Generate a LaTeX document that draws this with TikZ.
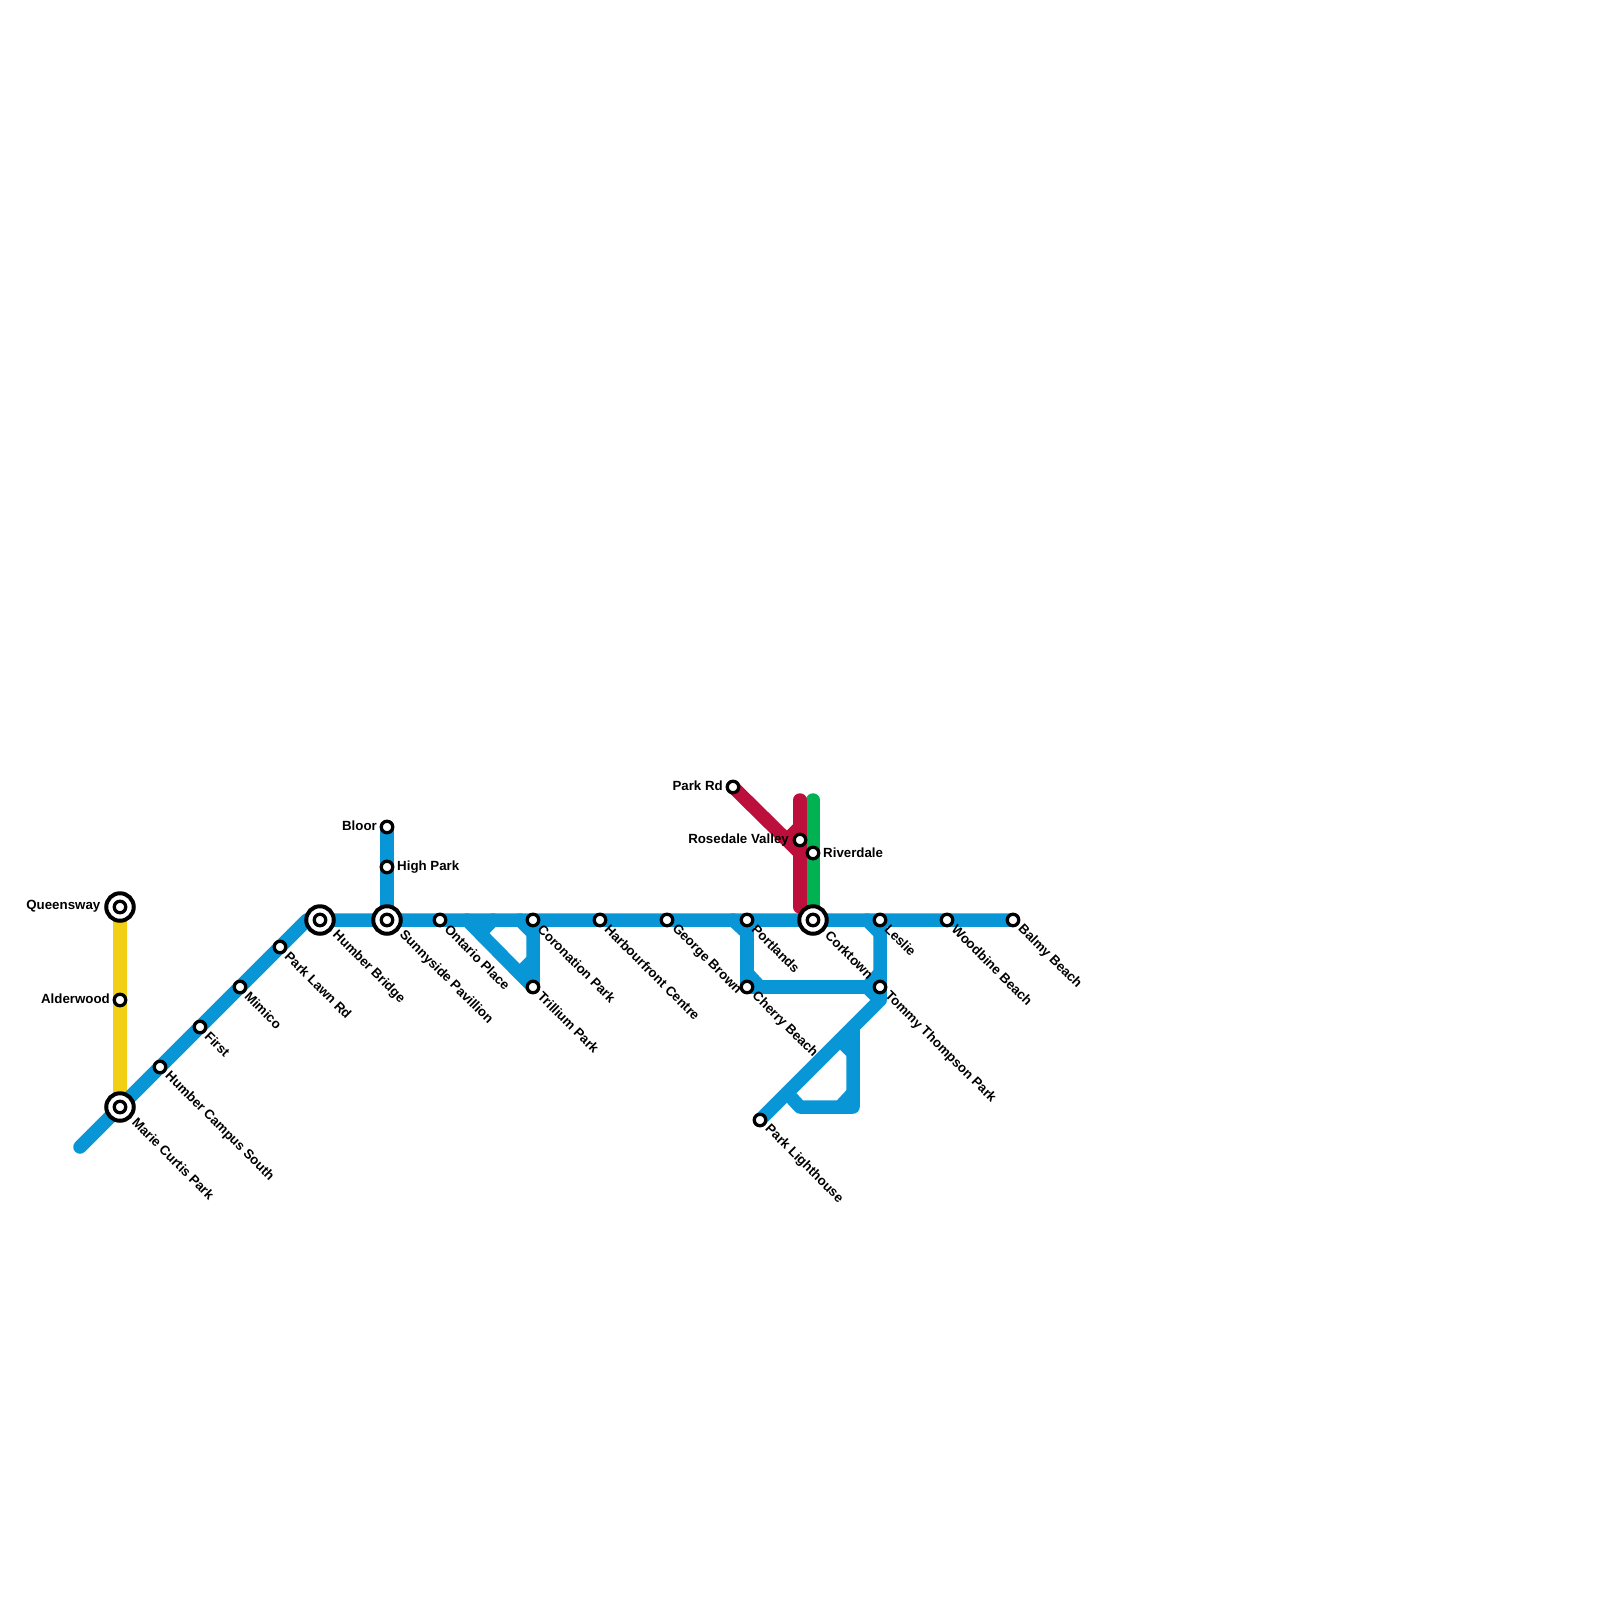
\documentclass[tikz,border=0pt]{standalone}
\usepackage{fontspec}
\setmainfont{Liberation Sans}
\usepackage{xcolor}
\usetikzlibrary{backgrounds}
\definecolor{TransitBlue}{HTML}{0896D7}
\definecolor{TransitYellow}{HTML}{F2CF14}
\definecolor{TransitRed}{HTML}{BD0F3C}
\definecolor{TransitGreen}{HTML}{00B251}
\tikzset{
  route/.style={line width=13.5pt,line cap=round,line join=round},
  stop/.style={circle,draw=black,fill=white,line width=3.3pt,minimum size=11.5pt,inner sep=0pt},
  hub/.style={circle,draw=black,fill=white,line width=4pt,minimum size=27.5pt,inner sep=0pt},
  tag/.style={font=\bfseries\fontsize{13.3}{15}\selectfont,inner sep=0pt},
  tagse/.style={tag,anchor=west,rotate=-45},
  tagl/.style={tag,anchor=east},
  tagr/.style={tag,anchor=west}
}
\begin{document}
\begin{tikzpicture}[x=1pt,y=-1pt]
    \useasboundingbox (0,0) rectangle (1600,1600);
    % interchanges
    \node[hub] (queensway) at (120,907) {};
    \node[stop] (queenswayin) at (120,907) {};
    \node[hub] (mariecurtis) at (120,1107) {};
    \node[stop] (mariecurtisin) at (120,1107) {};
    \node[hub] (humberbridge) at (320,920) {};
    \node[stop] (humberbridgein) at (320,920) {};
    \node[hub] (sunnyside) at (387,920) {};
    \node[stop] (sunnysidein) at (387,920) {};
    \node[hub] (corktown) at (813,920) {};
    \node[stop] (corktownin) at (813,920) {};
    % stops
    \node[stop] (alderwood) at (120,1000) {};
    \node[stop] (humbercampus) at (160,1067) {};
    \node[stop] (first) at (200,1027) {};
    \node[stop] (mimico) at (240,987) {};
    \node[stop] (parklawn) at (280,947) {};
    \node[stop] (highpark) at (387,867) {};
    \node[stop] (bloor) at (387,827) {};
    \node[stop] (ontario) at (440,920) {};
    \node[stop] (coronation) at (533,920) {};
    \node[stop] (trillium) at (533,987) {};
    \node[stop] (harbourfront) at (600,920) {};
    \node[stop] (georgebrown) at (667,920) {};
    \node[stop] (portlands) at (747,920) {};
    \node[stop] (cherry) at (747,987) {};
    \node[stop] (leslie) at (880,920) {};
    \node[stop] (tommy) at (880,987) {};
    \node[stop] (woodbine) at (947,920) {};
    \node[stop] (balmy) at (1013,920) {};
    \node[stop] (parkrd) at (733,787) {};
    \node[stop] (rosedale) at (800,840) {};
    \node[stop] (riverdale) at (813,853) {};
    \node[stop] (lighthouse) at (760,1120) {};
    % labels
    \node[tagl] (queenswaytag) at (100.5,906.5) {Queensway};
    \node[tagl] (alderwoodtag) at (110,999) {Alderwood};
    \node[tagl] (bloortag) at (377,826) {Bloor};
    \node[tagr] (highparktag) at (397,867) {High Park};
    \node[tagl] (parkrdtag) at (723,785.5) {Park Rd};
    \node[tagl] (rosedaletag) at (789,840) {Rosedale Valley};
    \node[tagr] (riverdaletag) at (823,852.5) {Riverdale};
    \node[tagse] (mariecurtistag) at (134.5,1120) {Marie Curtis Park};
    \node[tagse] (humbercampustag) at (167,1074) {Humber Campus South};
    \node[tagse] (firsttag) at (207,1034) {First};
    \node[tagse] (mimicotag) at (247,994) {Mimico};
    \node[tagse] (parklawntag) at (287,954) {Park Lawn Rd};
    \node[tagse] (humberbridgetag) at (334.5,933) {Humber Bridge};
    \node[tagse] (sunnysidetag) at (401.5,933) {Sunnyside Pavillion};
    \node[tagse] (ontariotag) at (447,927) {Ontario Place};
    \node[tagse] (coronationtag) at (540,927) {Coronation Park};
    \node[tagse] (trilliumtag) at (540,994) {Trillium Park};
    \node[tagse] (harbourfronttag) at (607,927) {Harbourfront Centre};
    \node[tagse] (georgebrowntag) at (674,927) {George Brown};
    \node[tagse] (portlandstag) at (754,927) {Portlands};
    \node[tagse] (cherrytag) at (754,994) {Cherry Beach};
    \node[tagse] (corktowntag) at (827.5,933) {Corktown};
    \node[tagse] (leslietag) at (887,927) {Leslie};
    \node[tagse] (tommytag) at (887,994) {Tommy Thompson Park};
    \node[tagse] (woodbinetag) at (954,927) {Woodbine Beach};
    \node[tagse] (balmytag) at (1020,927) {Balmy Beach};
    \node[tagse] (lighthousetag) at (767,1127) {Park Lighthouse};
    % free ends and bends of the lines
    \coordinate (westend) at (80,1147);
    \coordinate (bridgebend) at (307,920);
    \coordinate (triA) at (467,920);
    \coordinate (triB) at (493,920);
    \coordinate (triC) at (480,933);
    \coordinate (triD) at (520,920);
    \coordinate (triE) at (533,933);
    \coordinate (triF) at (533,960);
    \coordinate (triG) at (520,973);
    \coordinate (porA) at (733,920);
    \coordinate (porB) at (747,933);
    \coordinate (porC) at (747,973);
    \coordinate (porD) at (760,987);
    \coordinate (lesA) at (867,920);
    \coordinate (lesB) at (880,933);
    \coordinate (tomA) at (880,973);
    \coordinate (tomB) at (867,987);
    \coordinate (tomC) at (880,1000);
    \coordinate (loopA) at (840,1040);
    \coordinate (loopB) at (853,1053);
    \coordinate (loopC) at (853,1027);
    \coordinate (loopD) at (853,1107);
    \coordinate (loopE) at (800,1107);
    \coordinate (loopF) at (787,1093);
    \coordinate (loopG) at (853,1093);
    \coordinate (loopH) at (840,1107);
    \coordinate (redtop) at (800,800);
    \coordinate (redend) at (800,907);
    \coordinate (redA) at (800,853);
    \coordinate (redB) at (787,840);
    \coordinate (redC) at (800,827);
    \coordinate (greentop) at (813,800);
    \begin{pgfonlayer}{background}
      \draw[route,TransitYellow] (queensway.center)--(alderwood.center)--(mariecurtis.center);
      \draw[route,TransitBlue] (westend)--(mariecurtis.center)--(humbercampus.center)--(first.center)--(mimico.center)--(parklawn.center)--(bridgebend)--(humberbridge.center)--(sunnyside.center)--(ontario.center)--(coronation.center)--(harbourfront.center)--(georgebrown.center)--(portlands.center)--(corktown.center)--(leslie.center)--(woodbine.center)--(balmy.center);
      \draw[route,TransitBlue] (bloor.center)--(highpark.center)--(sunnyside.center);
      \draw[route,TransitBlue] (triA)--(trillium.center)--(coronation.center);
      \draw[route,TransitBlue] (triB)--(triC);
      \draw[route,TransitBlue] (triD)--(triE);
      \draw[route,TransitBlue] (triF)--(triG);
      \draw[route,TransitBlue] (portlands.center)--(cherry.center)--(tommy.center);
      \draw[route,TransitBlue] (porA)--(porB);
      \draw[route,TransitBlue] (porC)--(porD);
      \draw[route,TransitBlue] (leslie.center)--(tommy.center)--(tomC)--(lighthouse.center);
      \draw[route,TransitBlue] (lesA)--(lesB);
      \draw[route,TransitBlue] (tomA)--(tomB)--(tomC);
      \draw[route,TransitBlue] (loopC)--(loopD)--(loopE)--(loopF);
      \draw[route,TransitBlue] (loopA)--(loopB);
      \draw[route,TransitBlue] (loopG)--(loopH);
      \draw[route,TransitGreen] (greentop)--(riverdale.center)--(corktown.center);
      \draw[route,TransitRed] (parkrd.center)--(redA);
      \draw[route,TransitRed] (redtop)--(rosedale.center)--(redend);
      \draw[route,TransitRed] (redB)--(redC);
    \end{pgfonlayer}
  \end{tikzpicture}
\end{document}
